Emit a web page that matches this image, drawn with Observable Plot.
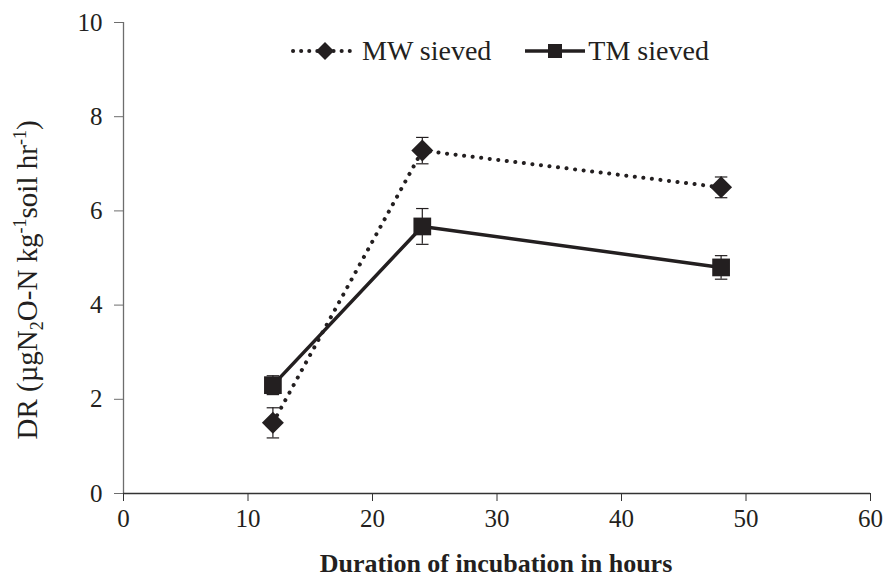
<!DOCTYPE html>
<html>
<head>
<meta charset="utf-8">
<script src="https://cdn.jsdelivr.net/npm/d3@7"></script>
<script src="https://cdn.jsdelivr.net/npm/@observablehq/plot@0.6"></script>
<style>
  html, body { margin: 0; padding: 0; background: #fff; }
  #wrap { position: relative; width: 883px; height: 578px; font-family: "Liberation Serif", "Times New Roman", serif; }
  #legend { position: absolute; left: 290px; top: 35px; display: flex; align-items: center; font-size: 28px; color: #231f20; }
  #legend .item { display: flex; align-items: center; }
  #legend svg { display: block; }
</style>
</head>
<body>
<div id="wrap"></div>
<script>
// ---- data ----
const hours = [12, 24, 48];
const mwSieved = [1.5, 7.28, 6.5];
const mwErr = [0.32, 0.28, 0.22];
const tmSieved = [2.3, 5.67, 4.8];
const tmErr = [0.2, 0.38, 0.25];
const xTicks = [0, 10, 20, 30, 40, 50, 60];
const yTicks = [0, 2, 4, 6, 8, 10];
const seriesNames = ["MW sieved", "TM sieved"];
const xTitle = "Duration of incubation in hours";

const ink = "#231f20";
const axisColor = "#6d6d6d";
const font = "Liberation Serif, Times New Roman, serif";

const mw = hours.map((h, i) => ({x: h, y: mwSieved[i], e: mwErr[i]}));
const tm = hours.map((h, i) => ({x: h, y: tmSieved[i], e: tmErr[i]}));

const diamond = {
  draw(ctx, size) {
    const a = Math.sqrt(size) / 2;
    ctx.moveTo(0, -a); ctx.lineTo(a, 0); ctx.lineTo(0, a); ctx.lineTo(-a, 0); ctx.closePath();
  }
};

function errMarks(data) {
  return [
    Plot.ruleX(data, {x: "x", y1: d => d.y - d.e, y2: d => d.y + d.e, stroke: ink, strokeWidth: 1.2}),
    Plot.link(data, {x1: d => d.x - 0.5, x2: d => d.x + 0.5, y1: d => d.y + d.e, y2: d => d.y + d.e, stroke: ink, strokeWidth: 1.2}),
    Plot.link(data, {x1: d => d.x - 0.5, x2: d => d.x + 0.5, y1: d => d.y - d.e, y2: d => d.y - d.e, stroke: ink, strokeWidth: 1.2})
  ];
}

const plot = Plot.plot({
  width: 883,
  height: 578,
  marginLeft: 123,
  marginRight: 13,
  marginTop: 22,
  marginBottom: 85,
  style: {fontFamily: font, fontSize: "25px", color: ink, background: "#fff", overflow: "visible"},
  x: {domain: [0, 60]},
  y: {domain: [0, 10]},
  marks: [
    Plot.ruleX([0], {stroke: axisColor, strokeWidth: 1.3}),
    Plot.ruleY([0], {stroke: "#333", strokeWidth: 1.3}),
    Plot.axisY({ticks: yTicks, tickSize: 9, tickPadding: 12, fontSize: 25, label: null, stroke: axisColor, fill: ink}),
    Plot.axisX({ticks: xTicks, tickSize: 8, tickPadding: 8, fontSize: 25, label: null, stroke: "#333", fill: ink}),
    ...errMarks(mw),
    ...errMarks(tm),
    Plot.line(mw, {x: "x", y: "y", stroke: ink, strokeWidth: 4, strokeDasharray: "0.1,8.5", strokeLinecap: "round"}),
    Plot.line(tm, {x: "x", y: "y", stroke: ink, strokeWidth: 3.5}),
    Plot.dot(mw, {x: "x", y: "y", symbol: diamond, r: 12.4, fill: ink, stroke: "none"}),
    Plot.dot(tm, {x: "x", y: "y", symbol: "square", r: 10, fill: ink, stroke: "none"})
  ]
});

const svg = d3.select(plot);
svg.selectAll('g[aria-label$="tick label"]').attr("font-size", 25);
// x axis title
svg.append("text")
  .attr("x", 496)
  .attr("y", 572)
  .attr("text-anchor", "middle")
  .attr("font-family", font)
  .attr("font-weight", "bold")
  .attr("font-size", 26)
  .attr("fill", ink)
  .text(xTitle);
// y axis title with sub/superscripts
const yt = svg.append("text")
  .attr("transform", `translate(37,280) rotate(-90)`)
  .attr("text-anchor", "middle")
  .attr("font-family", font)
  .attr("font-size", 29)
  .attr("fill", ink);
yt.append("tspan").text("DR (µgN");
yt.append("tspan").attr("font-size", 18).attr("dy", 6).text("2");
yt.append("tspan").attr("dy", -6).text("O-N kg");
yt.append("tspan").attr("font-size", 18).attr("dy", -11).text("-1");
yt.append("tspan").attr("dy", 11).text("soil hr");
yt.append("tspan").attr("font-size", 18).attr("dy", -11).text("-1");
yt.append("tspan").attr("dy", 11).text(")");

const wrap = document.getElementById("wrap");
wrap.appendChild(plot);

// legend (HTML overlay)
const legend = document.createElement("div");
legend.id = "legend";
legend.innerHTML = `
  <div class="item">
    <svg width="66" height="20"><line x1="3" y1="10" x2="63" y2="10" stroke="${ink}" stroke-width="4" stroke-dasharray="0.1,8" stroke-linecap="round"/><path d="M35,1 L44,10 L35,19 L26,10 Z" fill="${ink}"/></svg>
    <span style="margin-left:6px">${seriesNames[0]}</span>
  </div>
  <div class="item" style="margin-left:33px">
    <svg width="62" height="20"><line x1="1" y1="10" x2="61" y2="10" stroke="${ink}" stroke-width="3.5"/><rect x="24" y="3" width="14" height="14" fill="${ink}"/></svg>
    <span style="margin-left:2px">${seriesNames[1]}</span>
  </div>`;
wrap.appendChild(legend);
</script>
</body>
</html>
